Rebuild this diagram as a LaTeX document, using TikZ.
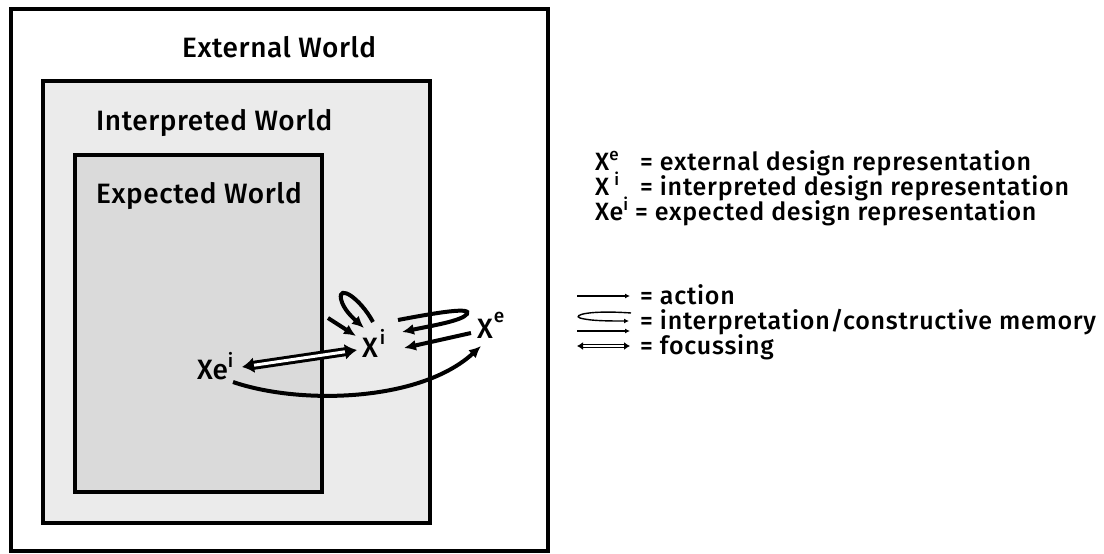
\documentclass[tikz,border=0pt]{standalone}
\usepackage{fontspec}
\setmainfont{Fira Sans}[UprightFont={* Medium}]
\usetikzlibrary{arrows.meta}

% raised small letter used for the e / i indices
\newcommand\upidx[3]{\raisebox{#2}{\fontsize{#1}{#1}\selectfont #3}}

\definecolor{interpfill}{HTML}{EBEBEB}
\definecolor{expectfill}{HTML}{DADADA}

\begin{document}
\begin{tikzpicture}[x=1pt,y=-1pt,
  frame/.style={draw=black,line width=4pt},
  title/.style={font=\fontsize{28}{32}\selectfont\addfontfeatures{LetterSpace=2},inner sep=0pt,anchor=base west},
  symb/.style={font=\fontsize{28}{32}\selectfont,inner sep=0pt,anchor=base west},
  legend/.style={font=\fontsize{25}{28}\selectfont\addfontfeatures{LetterSpace=3},inner sep=0pt,anchor=base west},
  act/.style={line width=4pt,-{Latex[length=12pt,width=11pt]}},
  foc/.style={line width=3pt,double distance=3pt,{Latex[length=12pt,width=16pt]}-{Latex[length=12pt,width=16pt]}},
  keyline/.style={line width=1.4pt,-{Latex[length=5pt,width=5pt]}},
  keyfoc/.style={line width=1.2pt,double distance=1.5pt,{Latex[length=6pt,width=8pt]}-{Latex[length=6pt,width=8pt]}}]
\useasboundingbox (0,0) rectangle (1104,554);
\fill[white] (0,0) rectangle (1104,554);

% nested worlds
\draw[frame,fill=white] (11,9) rectangle (548,551);
\draw[frame,fill=interpfill] (42.5,81) rectangle (430,523);
\draw[frame,fill=expectfill] (74.5,155) rectangle (322,492);

\node[title] (tExt) at (182,57) {External World};
\node[title] (tInt) at (96,130) {Interpreted World};
\node[title] (tExp) at (96,203) {Expected World};

% design representations
\node[symb] (xei) at (197,379) {Xe\upidx{19}{12pt}{i}};
\node[symb] (xi) at (362,357) {X\hspace{2pt}\upidx{19}{13pt}{i}};
\node[symb] (xe) at (477,338) {X\hspace{1pt}\upidx{19}{16pt}{e}};

% end points of the connectors
\coordinate (focA) at (242,367);
\coordinate (focB) at (357,350);
\coordinate (actA) at (233,382);
\coordinate (actB) at (481,346);
\coordinate (retA) at (471,333);
\coordinate (retB) at (404,348);
\coordinate (loopA) at (398,320);
\coordinate (loopB) at (402,332);
\coordinate (selfA) at (373,322);
\coordinate (selfB) at (364,328);
\coordinate (inA) at (328,318);
\coordinate (inB) at (356,336);

% focussing between expected and interpreted
\draw[foc] (focA) -- (focB);
% action from expected to external
\draw[act] (actA) .. controls (300,405) and (420,402) .. (actB);
% interpretation from external back to interpreted
\draw[act] (retA) -- (retB);
\draw[act] (loopA) .. controls (440,312) and (472,307) .. (467,314)
  .. controls (462,321) and (430,326) .. (loopB);
% constructive memory on the interpreted representation
\draw[act] (selfA) .. controls (360,298) and (338,284) .. (341,299)
  .. controls (343,309) and (353,318) .. (selfB);
\draw[act] (inA) -- (inB);

% key to the symbols
\node[legend] (k1) at (595,170) {\makebox[45pt][l]{X\upidx{17}{10pt}{e}}= external design representation};
\node[legend] (k2) at (595,195) {\makebox[45pt][l]{X\hspace{5pt}\upidx{17}{10pt}{i}}= interpreted design representation};
\node[legend] (k3) at (595,220) {Xe\upidx{17}{10pt}{i} = expected design representation};

\coordinate (a1) at (577,296);
\coordinate (a2) at (630,296);
\coordinate (b1) at (631,313);
\coordinate (b2) at (629,321);
\coordinate (c1) at (577,331);
\coordinate (c2) at (630,331);
\coordinate (d1) at (577,346);
\coordinate (d2) at (630,346);
\draw[keyline] (a1) -- (a2);
\draw[keyline] (b1) .. controls (590,310) and (572,315) .. (580,318)
  .. controls (590,321) and (610,321) .. (b2);
\draw[keyline] (c1) -- (c2);
\draw[keyfoc] (d1) -- (d2);

\node[legend] (ka) at (640,304) {= action};
\node[legend] (kb) at (640,329) {= interpretation/constructive memory};
\node[legend] (kc) at (640,354) {= focussing};
\end{tikzpicture}
\end{document}
